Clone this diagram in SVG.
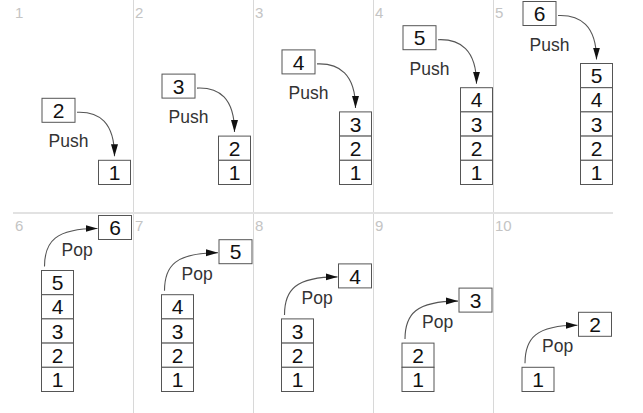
<svg xmlns="http://www.w3.org/2000/svg" width="643" height="413" viewBox="0 0 643 413">
<style>
.bx{fill:#fff;stroke:#555;stroke-width:1}
.d{font-family:"Liberation Sans",Arial,sans-serif;font-size:21px;fill:#111;text-anchor:middle}
.op{font-family:"Liberation Sans",Arial,sans-serif;font-size:17.5px;fill:#333}
.pn{font-family:"Liberation Sans",Arial,sans-serif;font-size:15px;fill:#c4c4c4}
.dv{stroke:#d8d8d8;stroke-width:1}
.c{fill:none;stroke:#555;stroke-width:1.1;marker-end:url(#ah)}
</style>
<defs>
<marker id="ah" markerUnits="userSpaceOnUse" markerWidth="13" markerHeight="8" refX="12" refY="4" orient="auto">
<path d="M0,0.5 L12,4 L0,7.5 z" fill="#111"/>
</marker>
</defs>
<rect width="643" height="413" fill="#fff"/>
<g id="frame">
<line class="dv" x1="133.5" y1="0" x2="133.5" y2="413"/>
<line class="dv" x1="253.5" y1="0" x2="253.5" y2="413"/>
<line class="dv" x1="373.5" y1="0" x2="373.5" y2="413"/>
<line class="dv" x1="493.5" y1="0" x2="493.5" y2="413"/>
<line x1="13" y1="213" x2="613" y2="213" stroke="#e2e2e2" stroke-width="2"/>
<text class="pn" x="15" y="18">1</text>
<text class="pn" x="135" y="18">2</text>
<text class="pn" x="255" y="18">3</text>
<text class="pn" x="375" y="18">4</text>
<text class="pn" x="495" y="18">5</text>
<text class="pn" x="15" y="231">6</text>
<text class="pn" x="135" y="231">7</text>
<text class="pn" x="255" y="231">8</text>
<text class="pn" x="375" y="231">9</text>
<text class="pn" x="495" y="231">10</text>
</g>

<!-- Top row: push -->
<g id="p1-box2"><rect class="bx" x="42" y="98.3" width="33" height="24"/><text class="d" x="58.5" y="117.9">2</text></g>
<g id="p1-stack">
<rect class="bx" x="98.5" y="160.3" width="32" height="24.2"/><text class="d" x="114.5" y="180">1</text>
</g>

<g id="p2-box3"><rect class="bx" x="162" y="74.1" width="33" height="24"/><text class="d" x="178.5" y="93.7">3</text></g>
<g id="p2-stack">
<rect class="bx" x="218.5" y="136.1" width="32" height="24.2"/><text class="d" x="234.5" y="155.8">2</text>
<rect class="bx" x="218.5" y="160.3" width="32" height="24.2"/><text class="d" x="234.5" y="180">1</text>
</g>

<g id="p3-box4"><rect class="bx" x="282" y="49.9" width="33" height="24"/><text class="d" x="298.5" y="69.5">4</text></g>
<g id="p3-stack">
<rect class="bx" x="339.5" y="111.9" width="32" height="24.2"/><text class="d" x="355.5" y="131.6">3</text>
<rect class="bx" x="339.5" y="136.1" width="32" height="24.2"/><text class="d" x="355.5" y="155.8">2</text>
<rect class="bx" x="339.5" y="160.3" width="32" height="24.2"/><text class="d" x="355.5" y="180">1</text>
</g>

<g id="p4-box5"><rect class="bx" x="403" y="25.7" width="33" height="24"/><text class="d" x="419.5" y="45.3">5</text></g>
<g id="p4-stack">
<rect class="bx" x="460.5" y="87.7" width="32" height="24.2"/><text class="d" x="476.5" y="107.4">4</text>
<rect class="bx" x="460.5" y="111.9" width="32" height="24.2"/><text class="d" x="476.5" y="131.6">3</text>
<rect class="bx" x="460.5" y="136.1" width="32" height="24.2"/><text class="d" x="476.5" y="155.8">2</text>
<rect class="bx" x="460.5" y="160.3" width="32" height="24.2"/><text class="d" x="476.5" y="180">1</text>
</g>

<g id="p5-box6"><rect class="bx" x="523" y="1.5" width="33" height="24"/><text class="d" x="539.5" y="21.1">6</text></g>
<g id="p5-stack">
<rect class="bx" x="580.5" y="63.5" width="32" height="24.2"/><text class="d" x="596.5" y="83.2">5</text>
<rect class="bx" x="580.5" y="87.7" width="32" height="24.2"/><text class="d" x="596.5" y="107.4">4</text>
<rect class="bx" x="580.5" y="111.9" width="32" height="24.2"/><text class="d" x="596.5" y="131.6">3</text>
<rect class="bx" x="580.5" y="136.1" width="32" height="24.2"/><text class="d" x="596.5" y="155.8">2</text>
<rect class="bx" x="580.5" y="160.3" width="32" height="24.2"/><text class="d" x="596.5" y="180">1</text>
</g>

<!-- Bottom row: pop -->
<g id="p6-box6"><rect class="bx" x="98.5" y="215.5" width="33" height="24"/><text class="d" x="115" y="235.1">6</text></g>
<g id="p6-stack">
<rect class="bx" x="41.5" y="270.5" width="32" height="24.2"/><text class="d" x="57.5" y="290.2">5</text>
<rect class="bx" x="41.5" y="294.7" width="32" height="24.2"/><text class="d" x="57.5" y="314.4">4</text>
<rect class="bx" x="41.5" y="318.9" width="32" height="24.2"/><text class="d" x="57.5" y="338.6">3</text>
<rect class="bx" x="41.5" y="343.1" width="32" height="24.2"/><text class="d" x="57.5" y="362.8">2</text>
<rect class="bx" x="41.5" y="367.3" width="32" height="24.2"/><text class="d" x="57.5" y="387">1</text>
</g>

<g id="p7-box5"><rect class="bx" x="219" y="239.7" width="33" height="24"/><text class="d" x="235.5" y="259.3">5</text></g>
<g id="p7-stack">
<rect class="bx" x="161.5" y="294.7" width="32" height="24.2"/><text class="d" x="177.5" y="314.4">4</text>
<rect class="bx" x="161.5" y="318.9" width="32" height="24.2"/><text class="d" x="177.5" y="338.6">3</text>
<rect class="bx" x="161.5" y="343.1" width="32" height="24.2"/><text class="d" x="177.5" y="362.8">2</text>
<rect class="bx" x="161.5" y="367.3" width="32" height="24.2"/><text class="d" x="177.5" y="387">1</text>
</g>

<g id="p8-box4"><rect class="bx" x="338.5" y="263.9" width="33" height="24"/><text class="d" x="355" y="283.5">4</text></g>
<g id="p8-stack">
<rect class="bx" x="281.5" y="318.9" width="32" height="24.2"/><text class="d" x="297.5" y="338.6">3</text>
<rect class="bx" x="281.5" y="343.1" width="32" height="24.2"/><text class="d" x="297.5" y="362.8">2</text>
<rect class="bx" x="281.5" y="367.3" width="32" height="24.2"/><text class="d" x="297.5" y="387">1</text>
</g>

<g id="p9-box3"><rect class="bx" x="459" y="288.1" width="33" height="24"/><text class="d" x="475.5" y="307.7">3</text></g>
<g id="p9-stack">
<rect class="bx" x="402" y="343.1" width="32" height="24.2"/><text class="d" x="418" y="362.8">2</text>
<rect class="bx" x="402" y="367.3" width="32" height="24.2"/><text class="d" x="418" y="387">1</text>
</g>

<g id="p10-box2"><rect class="bx" x="578.5" y="312.3" width="33" height="24"/><text class="d" x="595" y="331.9">2</text></g>
<g id="p10-stack">
<rect class="bx" x="522" y="367.3" width="32" height="24.2"/><text class="d" x="538" y="387">1</text>
</g>

<g id="connectors">
<path class="c" d="M77,112.3 C99,111.3 114.5,122.3 114.5,156.3"/>
<path class="c" d="M197,88.1 C219,87.1 234.5,98.1 234.5,132.1"/>
<path class="c" d="M317,63.9 C339,62.9 355.5,73.9 355.5,107.9"/>
<path class="c" d="M438,39.7 C460,38.7 476.5,49.7 476.5,83.7"/>
<path class="c" d="M558,15.5 C580,14.5 596.5,25.5 596.5,59.5"/>
<path class="c" d="M44.5,266.5 C44.5,241.5 55.5,228.5 97.5,228.5"/>
<path class="c" d="M164.5,290.7 C164.5,265.7 175.5,252.7 218,252.7"/>
<path class="c" d="M284.5,314.9 C284.5,289.9 295.5,276.9 337.5,276.9"/>
<path class="c" d="M405,339.1 C405,314.1 416,301.1 458,301.1"/>
<path class="c" d="M525,363.3 C525,338.3 536,325.3 577.5,325.3"/>
<text class="op" x="48.5" y="147.3">Push</text>
<text class="op" x="168.5" y="123.1">Push</text>
<text class="op" x="288.5" y="98.9">Push</text>
<text class="op" x="409.5" y="74.7">Push</text>
<text class="op" x="529.5" y="50.5">Push</text>
<text class="op" x="61.5" y="255.5">Pop</text>
<text class="op" x="181.5" y="279.7">Pop</text>
<text class="op" x="301.5" y="303.9">Pop</text>
<text class="op" x="422" y="328.1">Pop</text>
<text class="op" x="542" y="352.3">Pop</text>
</g>
</svg>
